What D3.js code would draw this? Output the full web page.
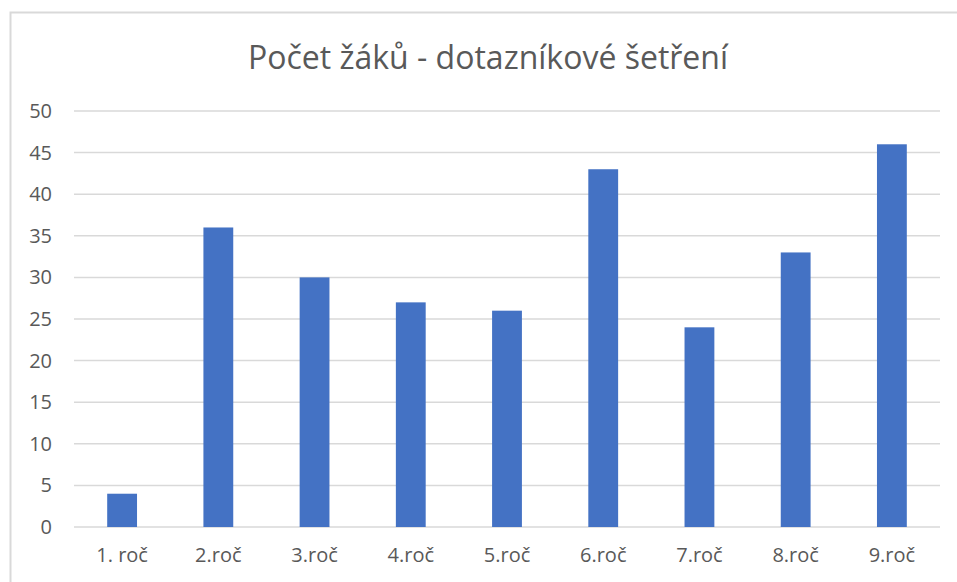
<!DOCTYPE html>
<html>
<head>
<meta charset="utf-8">
<script src="https://cdn.jsdelivr.net/npm/d3@7"></script>
<style>
  body { margin: 0; background: #fff; }
  svg { display: block; }
  text { font-family: "Open Sans", "Noto Sans", sans-serif; fill: #595959; }
</style>
</head>
<body>
<svg id="chart" width="957" height="582"></svg>
<script>
// chart data
const title = "Počet žáků - dotazníkové šetření";
const categories = ["1. roč", "2.roč", "3.roč", "4.roč", "5.roč", "6.roč", "7.roč", "8.roč", "9.roč"];
const values = [4, 36, 30, 27, 26, 43, 24, 33, 46];
const yTicks = [0, 5, 10, 15, 20, 25, 30, 35, 40, 45, 50];

const svg = d3.select("#chart");
const margin = {left: 74, right: 17, top: 111, bottom: 55};
const width = 957, height = 582;

// outer frame of the chart area
svg.append("rect")
  .attr("x", 10.5).attr("y", 12.5)
  .attr("width", 960).attr("height", 600)
  .attr("fill", "none")
  .attr("stroke", "#d9d9d9")
  .attr("stroke-width", 2);

let xScale = d3.scaleBand()
  .domain(categories)
  .range([margin.left, width - margin.right])
  .paddingInner(0.69)
  .paddingOuter(0.345);

let yScale = d3.scaleLinear()
  .domain([0, 50])
  .range([height - margin.bottom, margin.top]);

// gridlines
svg.append("g")
  .selectAll("line")
  .data(yTicks)
  .enter().append("line")
  .attr("x1", margin.left)
  .attr("x2", width - margin.right)
  .attr("y1", d => yScale(d))
  .attr("y2", d => yScale(d))
  .attr("stroke", "#d9d9d9")
  .attr("stroke-width", 1.5);

// y axis labels
let yAxis = d3.axisLeft(yScale).tickValues(yTicks).tickSize(0).tickPadding(22);
svg.append("g")
  .attr("transform", "translate(" + margin.left + ",0)")
  .call(yAxis)
  .call(g => g.select(".domain").remove())
  .selectAll("text")
  .style("font-size", "20px")
  .attr("fill", "#595959");

// bars
svg.append("g")
  .selectAll("rect")
  .data(values)
  .enter().append("rect")
  .attr("x", (d, i) => xScale(categories[i]))
  .attr("y", d => yScale(d))
  .attr("width", xScale.bandwidth())
  .attr("height", d => yScale(0) - yScale(d))
  .attr("fill", "#4472c4");

// x axis labels
let xAxis = d3.axisBottom(xScale).tickSize(0).tickPadding(21);
svg.append("g")
  .attr("transform", "translate(0," + yScale(0) + ")")
  .call(xAxis)
  .call(g => g.select(".domain").remove())
  .selectAll("text")
  .style("font-size", "20px")
  .attr("fill", "#595959");

// title
svg.append("text")
  .attr("x", 488)
  .attr("y", 69)
  .attr("text-anchor", "middle")
  .style("font-size", "32px")
  .text(title);
</script>
</body>
</html>
